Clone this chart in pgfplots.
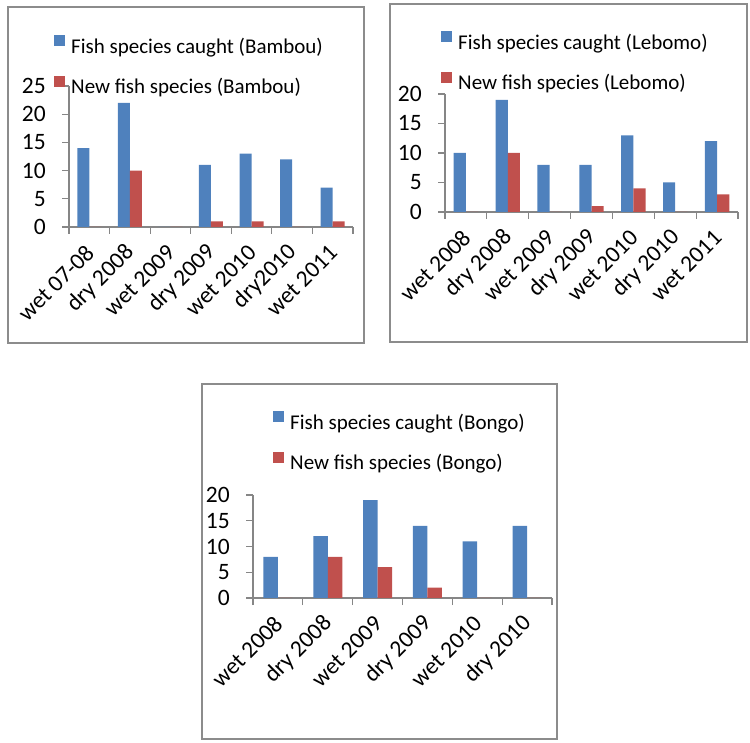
\documentclass[border=0pt]{standalone}
\usepackage{pgfplots}
\pgfplotsset{compat=1.18}
\usepackage{fontspec}
\setmainfont{Carlito}
\definecolor{xlblue}{HTML}{4F81BD}
\definecolor{xlred}{HTML}{C0504D}
\definecolor{axgray}{HTML}{868686}
\definecolor{boxgray}{HTML}{8C8C8C}
\newcommand{\ytfont}{\fontsize{23.5}{27}\selectfont}
\newcommand{\xtfont}{\fontsize{23.5}{27}\selectfont}
\newcommand{\legfont}{\fontsize{21}{25}\selectfont}
\pgfplotsset{
  fishbar/.style={
    scale only axis,
    anchor=south west,
    ybar=0pt,
    axis x line*=bottom,
    axis y line*=left,
    x axis line style={-, draw=axgray, line width=1.2pt},
    y axis line style={-, draw=axgray, line width=1.2pt},
    ymin=0,
    xmin=-0.5,
    xtick=data,
    major x tick style={draw=none},
    minor tick length=7pt,
    minor x tick style={draw=axgray, line width=1.2pt},
    major tick length=7pt,
    tick align=outside,
    ytick style={draw=axgray, line width=1.2pt},
    /pgf/number format/assume math mode=true,
    yticklabel style={font=\ytfont, inner sep=0pt, xshift=-16pt},
    xticklabel style={font=\xtfont, rotate=45, anchor=east, inner sep=0pt, xshift=-10pt, yshift=-11pt},
    legend cell align=left,
    legend image code/.code={\fill[##1] (0pt,0pt) rectangle (11pt,11pt);},
    legend style={draw=none, fill=none, font=\legfont, inner sep=0pt, column sep=6pt, row sep=21pt, nodes={inner sep=0pt}, anchor=north west},
    clip=false,
  },
  bluebar/.style={fill=xlblue, draw=none},
  redbar/.style={fill=xlred, draw=none},
}
\begin{document}
\begin{tikzpicture}[x=1pt,y=1pt]
\path (0pt,0pt) rectangle (750pt,742pt);
% frames
\draw[boxgray, line width=2pt] (8pt,399pt) rectangle (364pt,735pt);
\draw[boxgray, line width=2pt] (390pt,400pt) rectangle (747pt,738pt);
\draw[boxgray, line width=2pt] (202pt,3pt) rectangle (557pt,358pt);

% Bambou
\begin{axis}[fishbar, at={(69pt,515pt)}, width=284pt, height=141pt,
  ymax=25, ytick={0,5,10,15,20,25}, xmax=6.5,
  minor xtick={-0.5,0.5,1.5,2.5,3.5,4.5,5.5,6.5},
  bar width=12pt,
  xticklabels={wet 07-08, dry 2008, wet 2009, dry 2009, wet 2010, dry2010, wet 2011},
  legend style={at={(axis description cs:0,1)}, xshift=-15pt, yshift=51pt}]
\addplot[bluebar] coordinates {(0,14) (1,22) (2,0) (3,11) (4,13) (5,12) (6,7)};
\addplot[redbar] coordinates {(0,0) (1,10) (2,0) (3,1) (4,1) (5,0) (6,1)};
\legend{Fish species caught (Bambou), New fish species (Bambou)}
\end{axis}

% Lebomo
\begin{axis}[fishbar, at={(445pt,530pt)}, width=293pt, height=118pt,
  ymax=20, ytick={0,5,10,15,20}, xmax=6.5,
  minor xtick={-0.5,0.5,1.5,2.5,3.5,4.5,5.5,6.5},
  bar width=12.2pt,
  xticklabels={wet 2008, dry 2008, wet 2009, dry 2009, wet 2010, dry 2010, wet 2011},
  legend style={at={(axis description cs:0,1)}, xshift=-4pt, yshift=63pt}]
\addplot[bluebar] coordinates {(0,10) (1,19) (2,8) (3,8) (4,13) (5,5) (6,12)};
\addplot[redbar] coordinates {(0,0) (1,10) (2,0) (3,1) (4,4) (5,0) (6,3)};
\legend{Fish species caught (Lebomo), New fish species (Lebomo)}
\end{axis}

% Bongo
\begin{axis}[fishbar, at={(253pt,144pt)}, width=299pt, height=103pt,
  ymax=20, ytick={0,5,10,15,20}, xmax=5.5,
  minor xtick={-0.5,0.5,1.5,2.5,3.5,4.5,5.5},
  bar width=14.5pt,
  xticklabels={wet 2008, dry 2008, wet 2009, dry 2009, wet 2010, dry 2010},
  legend style={at={(axis description cs:0,1)}, xshift=20pt, yshift=84pt}]
\addplot[bluebar] coordinates {(0,8) (1,12) (2,19) (3,14) (4,11) (5,14)};
\addplot[redbar] coordinates {(0,0) (1,8) (2,6) (3,2) (4,0) (5,0)};
\legend{Fish species caught (Bongo), New fish species (Bongo)}
\end{axis}
\end{tikzpicture}
\end{document}
